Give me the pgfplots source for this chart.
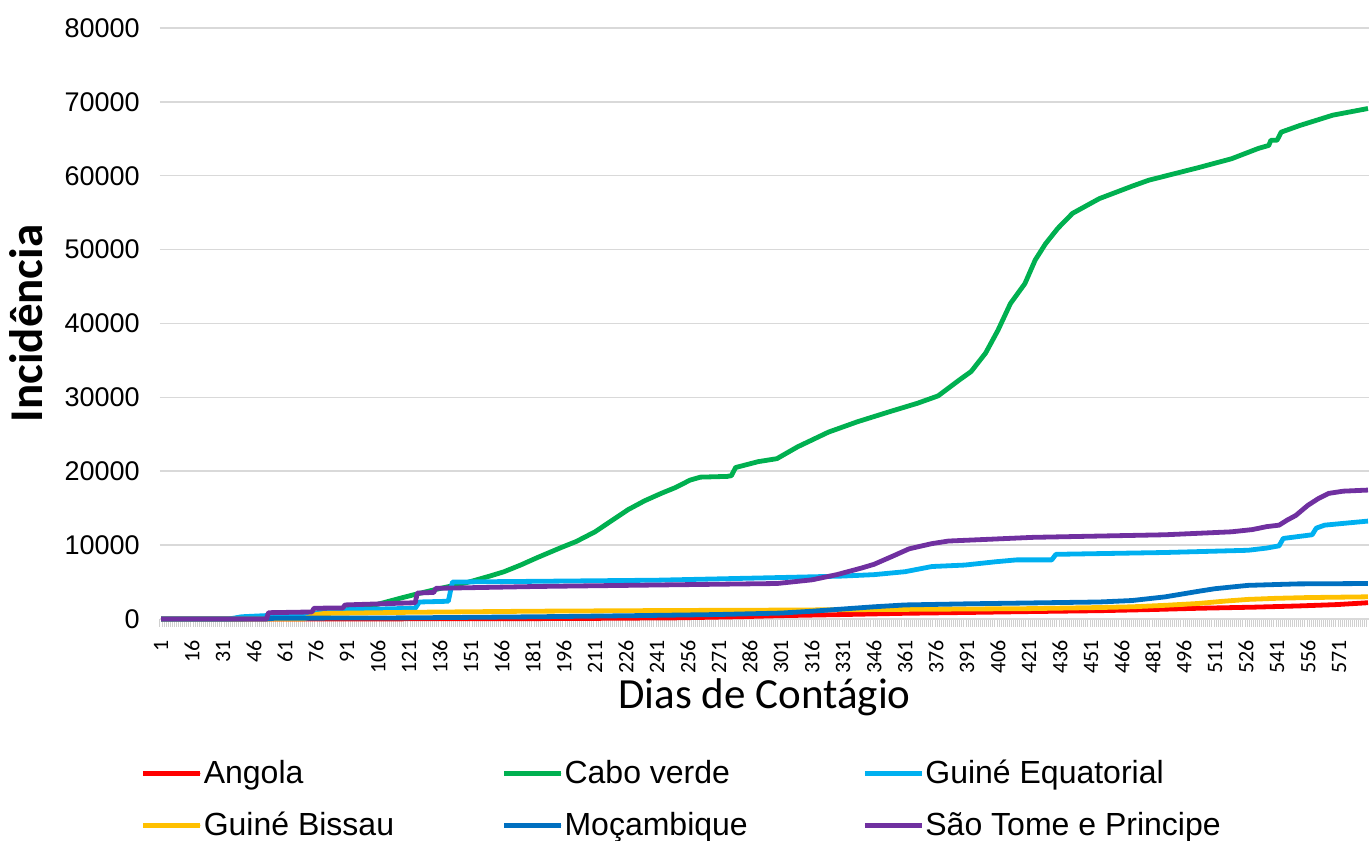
\documentclass[border=0pt]{standalone}
\usepackage{fontspec}
\setmainfont{Liberation Sans}
\newfontfamily\calibri{Carlito}
\usepackage{pgfplots}
\pgfplotsset{compat=1.18}
\definecolor{cAngola}{HTML}{FF0000}
\definecolor{cCabo}{HTML}{00B050}
\definecolor{cGEq}{HTML}{00B0F0}
\definecolor{cGBi}{HTML}{FFC000}
\definecolor{cMoc}{HTML}{0070C0}
\definecolor{cSTP}{HTML}{7030A0}
\definecolor{gridgray}{HTML}{D9D9D9}
\definecolor{tickgray}{HTML}{D0D0D0}
\newcommand{\lgstrut}{\rule[-3.6pt]{0pt}{15pt}}
\begin{document}
\begin{tikzpicture}
\begin{axis}[
  scale only axis, width=604.5pt, height=295.5pt,
  xmin=0.5, xmax=585.5, ymin=0, ymax=80000,
  clip=false,
  axis lines*=left,
  x axis line style={draw=gridgray, line width=0.75pt},
  y axis line style={draw=none},
  ytick={0,10000,...,80000},
  xtick={1,16,...,571},
  minor xtick={0.5,1.5,...,585.5},
  major tick length=0pt, minor tick length=4pt,
  tick align=outside,
  minor tick style={draw=tickgray, line width=0.5pt},
  ymajorgrids, grid style={draw=gridgray, line width=0.75pt},
  scaled y ticks=false,
  /pgf/number format/1000 sep={},
  /pgf/number format/assume math mode=true,
  yticklabel style={font=\fontsize{13.5}{16}\selectfont, anchor=east, inner sep=0pt},
  yticklabel shift=10pt,
  xticklabel style={font=\calibri\fontsize{11}{13}\selectfont, yshift=-10.5pt, rotate=90, anchor=east, inner sep=0pt},
  xlabel={Dias de Contágio},
  xlabel style={font=\calibri\fontsize{21.5}{26}\selectfont, at={(axis description cs:0.5,-0.152)}, anchor=base},
  ylabel={Incidência},
  ylabel style={font=\calibri\bfseries\fontsize{23.5}{28}\selectfont, at={(axis description cs:-0.0976,0.5)}, anchor=base, rotate=0},
  legend columns=3,
  legend style={draw=none, fill=none, inner sep=0pt, outer sep=0pt,
    at={(axis description cs:-0.01571,-0.2372)}, anchor=north west,
    font=\fontsize{16}{19}\selectfont,
    nodes={inner sep=0.5pt, anchor=west},
    row sep=11.6pt,
    /tikz/every even column/.append style={column sep=0pt}},
  legend image code/.code={\path (0pt,0pt) -- (28.5pt,0pt); \draw[#1, line width=2.4pt, line cap=round] (1.2pt,0pt) -- (27.3pt,0pt);},
  every axis plot/.append style={line width=2.4pt, line join=round, no markers},
]
\coordinate (BL) at (rel axis cs:0,0);
\coordinate (TR) at (rel axis cs:1,1);

% Angola
\addplot[cAngola] coordinates {
(1,0)(60,0)(100,10)(150,30)(200,60)(250,150)(280,300)(301,450)(331,600)(361,770)(391,880)(421,1000)(455,1120)(481,1280)(503,1450)(530,1600)(551,1760)(570,1950)(585,2200)
};
\addlegendentry{\makebox[148.5pt][l]{Angola\lgstrut}}

% Cabo verde
\addplot[cCabo] coordinates {
(1,0)(40,0)(50,200)(60,400)(75,700)(90,1200)(100,1700)(106,2000)(118,2900)(125,3400)(134,4000)(150,5000)(160,5800)(167,6400)(175,7300)(183,8300)(194,9600)(202,10500)(211,11800)(219,13300)(227,14800)(235,16000)(243,17000)(250,17800)(257,18800)(262,19200)(275,19300)(277,19400)(279,20500)(290,21300)(299,21700)(309,23300)(324,25300)(338,26700)(354,28100)(367,29200)(377,30200)(387,32300)(393,33500)(400,36000)(406,39100)(412,42700)(419,45400)(424,48600)(429,50800)(435,52900)(442,54900)(455,56900)(471,58600)(479,59400)(503,61100)(519,62300)(532,63700)(537,64100)(538,64800)(541,64800)(543,65900)(552,66800)(568,68200)(585,69100)
};
\addlegendentry{\makebox[148.5pt][l]{Cabo verde\lgstrut}}

% Guine Equatorial
\addplot[cGEq] coordinates {
(1,0)(34,0)(40,300)(55,500)(75,650)(78,1000)(90,1250)(124,1450)(126,2300)(140,2400)(142,5000)(183,5100)(241,5250)(299,5600)(330,5800)(346,6000)(361,6400)(374,7100)(390,7300)(405,7750)(415,8000)(432,8000)(434,8750)(487,9000)(527,9300)(536,9600)(542,9900)(544,10900)(558,11400)(560,12300)(564,12700)(583,13200)(585,13250)
};
\addlegendentry{\makebox[148.5pt][l]{Guiné Equatorial\lgstrut}}

% Guine Bissau
\addplot[cGBi] coordinates {
(1,0)(70,0)(76,600)(80,750)(120,900)(180,1050)(250,1150)(300,1200)(361,1300)(421,1400)(455,1550)(471,1650)(487,1850)(503,2100)(515,2400)(527,2650)(541,2800)(556,2900)(585,3000)
};
\addlegendentry{\makebox[148.5pt][l]{Guiné Bissau\lgstrut}}

% Mocambique
\addplot[cMoc] coordinates {
(1,0)(52,0)(56,100)(120,150)(183,300)(230,450)(270,600)(301,800)(316,1050)(331,1350)(346,1650)(361,1900)(391,2050)(455,2300)(471,2500)(487,3000)(503,3750)(511,4100)(527,4550)(551,4750)(585,4800)
};
\addlegendentry{\makebox[148.5pt][l]{Moçambique\lgstrut}}

% Sao Tome e Principe
\addplot[cSTP] coordinates {
(1,0)(52,0)(53,850)(74,950)(75,1450)(89,1500)(90,1900)(124,2200)(125,3500)(133,3600)(134,4150)(183,4400)(241,4600)(299,4800)(316,5300)(328,6000)(340,6900)(346,7400)(355,8500)(363,9500)(374,10200)(382,10550)(423,11050)(487,11400)(519,11800)(529,12100)(536,12500)(542,12700)(546,13400)(550,14000)(556,15400)(561,16300)(566,17000)(573,17300)(585,17450)
};
\addlegendentry{\makebox[148.5pt][l]{São Tome e Principe\lgstrut}}
\end{axis}
\pgfresetboundingbox
\path ([xshift=-80pt,yshift=-111pt]BL) rectangle ([yshift=14pt]TR);
\end{tikzpicture}
\end{document}
